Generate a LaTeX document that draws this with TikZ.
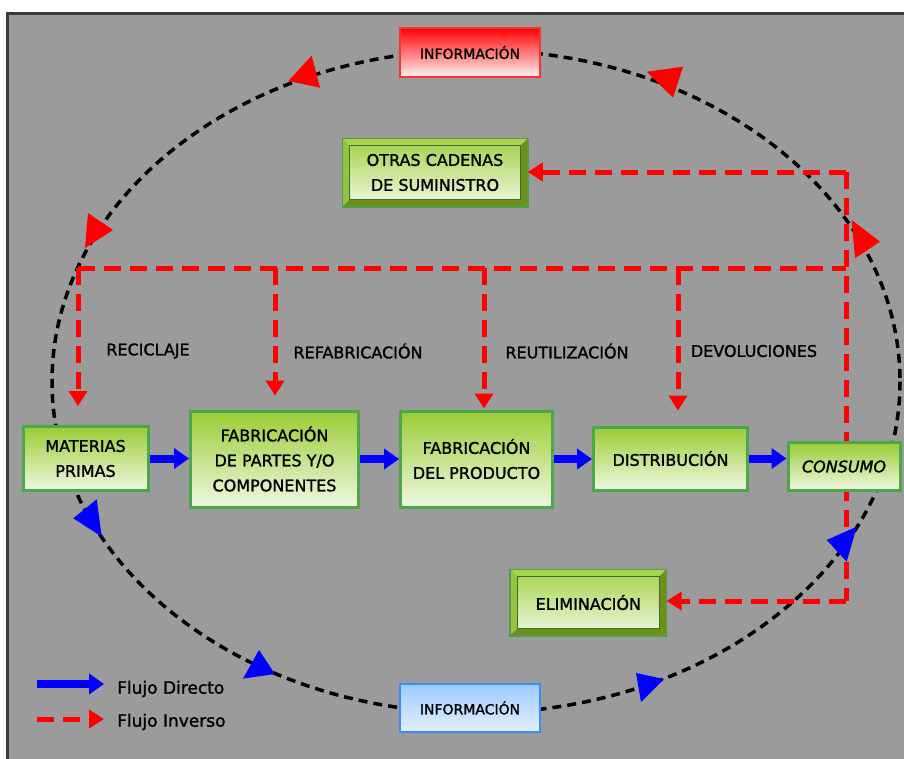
\documentclass[tikz,border=0pt]{standalone}
\usepackage{fontspec}
\setmainfont{DejaVu Sans}
\newfontfamily\cfont[FakeBold=1.4]{DejaVu Sans}
\usetikzlibrary{arrows.meta,calc}
\definecolor{bgc}{HTML}{9B9B9B}
\definecolor{frame}{HTML}{3A3A3A}
\definecolor{gtop}{HTML}{99CC33}
\definecolor{gbot}{HTML}{F0F8E2}
\definecolor{gedge}{HTML}{4CA64C}
\definecolor{bevlight}{HTML}{A6D64E}
\definecolor{bevleft}{HTML}{94C43E}
\definecolor{bevdark}{HTML}{6E8E16}
\definecolor{bevedge}{HTML}{4F9E4F}
\definecolor{rflow}{HTML}{FF0000}
\definecolor{bflow}{HTML}{0000FF}
\definecolor{itop}{HTML}{FF0000}
\definecolor{ibot}{HTML}{FFF4F4}
\definecolor{iedge}{HTML}{FF3030}
\definecolor{btop}{HTML}{9CCBFF}
\definecolor{bbot}{HTML}{E4F1FF}
\definecolor{bedge}{HTML}{3D8BFF}
\newcommand\bevelfaces[1]{%
  \fill[bevlight] (#1.north west) -- (#1.north east) -- ($(#1.north east)+(-7,7)$) -- ($(#1.north west)+(7,7)$) -- cycle;
  \fill[bevleft] (#1.north west) -- ($(#1.north west)+(7,7)$) -- ($(#1.south west)+(7,-7)$) -- (#1.south west) -- cycle;
  \fill[bevdark] (#1.south west) -- ($(#1.south west)+(7,-7)$) -- ($(#1.south east)+(-7,-7)$) -- (#1.south east) -- cycle;
  \fill[bevdark] (#1.south east) -- ($(#1.south east)+(-7,-7)$) -- ($(#1.north east)+(-7,7)$) -- (#1.north east) -- cycle;
  \draw[bevedge, line width=1.5pt] (#1.north west) rectangle (#1.south east);
  \draw[bevedge!70!black, line width=0.6pt] ($(#1.north west)+(7,7)$) rectangle ($(#1.south east)+(-7,-7)$);
}
\begin{document}
\begin{tikzpicture}[x=1pt,y=-1pt,
  gbox/.style={draw=gedge, line width=3pt, top color=gtop, bottom color=gbot,
    align=center, inner sep=0pt, font=\cfont\fontsize{16}{25}\selectfont},
  bbox/.style={draw=bevedge, line width=1.5pt, top color=gtop!90!white, bottom color=gbot,
    align=center, inner sep=0pt, font=\cfont\fontsize{16}{25}\selectfont},
  infored/.style={draw=iedge, line width=2pt, top color=itop, bottom color=ibot,
    minimum width=140pt, minimum height=49pt, inner sep=0pt, font=\cfont\fontsize{14}{16}\selectfont},
  infoblue/.style={draw=bedge, line width=2pt, top color=btop, bottom color=bbot,
    minimum width=140pt, minimum height=48pt, inner sep=0pt, font=\cfont\fontsize{14}{16}\selectfont},
  infoline/.style={draw=black, line width=3.5pt, dash pattern=on 9pt off 6pt},
  redflow/.style={draw=rflow, line width=5pt, dash pattern=on 17pt off 9pt},
  redarrow/.style={redflow, -{Triangle[length=15pt,width=18pt]}},
  bluearrow/.style={draw=bflow, line width=8pt, -{Triangle[length=15pt,width=20pt]}},
  lbl/.style={font=\cfont\fontsize{16}{18}\selectfont, inner sep=0pt},
  legtxt/.style={font=\cfont\fontsize{17}{19}\selectfont, inner sep=0pt, anchor=west}
]
\useasboundingbox (0,0) rectangle (904,758);
\clip (0,0) rectangle (904,758);
% background
\fill[white] (0,0) rectangle (904,758);
\fill[bgc] (7,13) rectangle (920,775);
\draw[frame, line width=3pt] (7,775) -- (7,13) -- (920,13);

% information ellipse
\draw[infoline] (476,381.5) ellipse [x radius=424, y radius=331.5];

% information boxes
\node[infored] (infT) at (470,52.5) {INFORMACIÓN};
\node[infoblue] (infB) at (470,708) {INFORMACIÓN};

% reverse flow network
\coordinate (c1) at (78,268);
\coordinate (c2) at (275,268);
\coordinate (c3) at (484,268);
\coordinate (c4) at (678,268);
\coordinate (cR) at (846,268);
\coordinate (cT) at (846,172);
\coordinate (cB) at (846,601);

% main boxes
\node[gbox, minimum width=125pt, minimum height=64pt] (mat) at (85.5,458.5) {MATERIAS\\PRIMAS};
\node[gbox, minimum width=168pt, minimum height=96pt] (fab1) at (274.5,459) {FABRICACIÓN\\DE PARTES Y/O\\COMPONENTES};
\node[gbox, minimum width=152pt, minimum height=96pt] (fab2) at (476.5,459) {FABRICACIÓN\\DEL PRODUCTO};
\node[gbox, minimum width=154pt, minimum height=63pt] (dist) at (670.5,458.5) {DISTRIBUCIÓN};
\node[bbox, minimum width=184pt, minimum height=67pt] (otras) at (435,172.5) {OTRAS CADENAS\\DE SUMINISTRO};
\bevelfaces{otras}
\node[bbox, minimum width=155pt, minimum height=65pt] (elim) at (588.3,602.5) {ELIMINACIÓN};
\bevelfaces{elim}

\draw[redflow] (cT) -- (cB);
\draw[redflow] (c1) -- (cR);
\draw[redarrow, shorten >=19pt] (c1) -- (c1 |- mat.north);
\draw[redarrow, shorten >=14pt] (c2) -- (c2 |- fab1.north);
\draw[redarrow, shorten >=1pt] (c3) -- (c3 |- fab2.north);
\draw[redarrow, shorten >=15pt] (c4) -- (c4 |- dist.north);
\draw[redarrow] (cT) -- (cT -| otras.east);
\draw[redarrow] (cB) -- (cB -| elim.east);

\node[gbox, minimum width=112pt, minimum height=48pt, font=\cfont\fontsize{16}{18}\selectfont\itshape] (cons) at (844,466.5) {CONSUMO};

% flow triangles on the information loop
\fill[rflow] (311.7,55.7) -- (320,87.7) -- (288.3,81) -- cycle;
\fill[rflow] (646.7,71.7) -- (683,66.7) -- (673,97.7) -- cycle;
\fill[rflow] (88,213) -- (113,230) -- (85,248) -- cycle;
\fill[rflow] (851.7,220) -- (880,241.7) -- (855,258.3) -- cycle;
\fill[bflow] (96.7,499.3) -- (73.3,518.3) -- (101.7,536.7) -- cycle;
\fill[bflow] (243,678.6) -- (259,650) -- (275,674) -- cycle;
\fill[bflow] (664,679) -- (636,673) -- (641,702) -- cycle;
\fill[bflow] (826.7,540) -- (856.7,526.7) -- (846.7,561.7) -- cycle;

% direct flow
\draw[bluearrow] (mat.east) -- (mat.east -| fab1.west);
\draw[bluearrow] (fab1.east) -- (fab1.east -| fab2.west);
\draw[bluearrow] (fab2.east) -- (fab2.east -| dist.west);
\draw[bluearrow] (dist.east) -- (dist.east -| cons.west);

% labels
\node[lbl] (l1) at (148,351) {RECICLAJE};
\node[lbl] (l2) at (358,351) {REFABRICACIÓN};
\node[lbl] (l3) at (567,351) {REUTILIZACIÓN};
\node[lbl] (l4) at (754,351) {DEVOLUCIONES};

% legend
\coordinate (lb1) at (37,684);
\coordinate (lb2) at (104,684);
\coordinate (lr1) at (37,719);
\coordinate (lr2) at (104,719);
\draw[bluearrow] (lb1) -- (lb2);
\draw[redarrow] (lr1) -- (lr2);
\node[legtxt] (t1) at (117,689) {Flujo Directo};
\node[legtxt] (t2) at (117,722) {Flujo Inverso};
\end{tikzpicture}
\end{document}
